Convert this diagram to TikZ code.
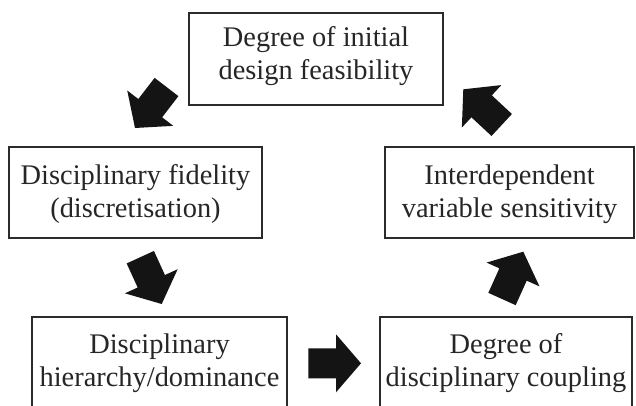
\documentclass[tikz,border=0pt]{standalone}
\usepackage{fontspec}
\setmainfont{Liberation Serif}
\usetikzlibrary{calc}
\definecolor{edgecol}{HTML}{2B2B2B}
\definecolor{arrcol}{HTML}{141414}
\tikzset{
  box/.style={draw=edgecol, line width=1.8pt, fill=white, inner sep=0pt},
  lbl/.style={align=center, inner sep=0pt,
    font=\fontsize{28.4}{33}\selectfont, text=black!85},
  blockfill/.style={fill=arrcol}
}
\newcommand\blockarr[2]{%
  \coordinate (hb) at ($(#2)!25pt!(#1)$);
  \fill[blockfill] ($(#1)!15pt!90:(#2)$) -- ($(hb)!15pt!-90:(#1)$) --
    ($(hb)!29pt!-90:(#1)$) -- (#2) -- ($(hb)!29pt!90:(#1)$) --
    ($(hb)!15pt!90:(#1)$) -- ($(#1)!15pt!-90:(#2)$) -- cycle;}
\begin{document}
\begin{tikzpicture}[x=1pt,y=-1pt]
\clip (0,0) rectangle (636,406);
\fill[white] (0,0) rectangle (636,406);
\node[box, minimum width=254pt, minimum height=92pt] (feas) at (316,59) {};
\node[box, minimum width=253pt, minimum height=91pt] (fid) at (135.5,192.5) {};
\node[box, minimum width=249pt, minimum height=91pt] (sens) at (509.5,192.5) {};
\node[box, minimum width=255pt, minimum height=91pt] (hier) at (159.5,362.5) {};
\node[box, minimum width=252pt, minimum height=91pt] (coup) at (506,362.5) {};
\node[lbl] (feast) at ($(feas.center)+(0,-2.5)$) {Degree of initial\\design feasibility};
\node[lbl] (fidt) at ($(fid.center)+(0,2)$) {Disciplinary fidelity\\(discretisation)};
\node[lbl] (senst) at ($(sens.center)+(0,2)$) {Interdependent\\variable sensitivity};
\node[lbl] (hiert) at ($(hier.center)+(0,1)$) {Disciplinary\\hierarchy/dominance};
\node[lbl] (coupt) at ($(coup.center)+(0,1)$) {Degree of\\disciplinary coupling};
\coordinate (a1t) at (166.5,87);   \coordinate (a1h) at (135,128);
\coordinate (a2t) at (501.7,125);  \coordinate (a2h) at (463.3,89.3);
\coordinate (a3t) at (140.3,257.2);\coordinate (a3h) at (161.7,304);
\coordinate (a4t) at (308.3,363.3);\coordinate (a4h) at (361,363.3);
\coordinate (a5t) at (502,299);    \coordinate (a5h) at (523.3,251.7);
\blockarr{a1t}{a1h}
\blockarr{a2t}{a2h}
\blockarr{a3t}{a3h}
\blockarr{a4t}{a4h}
\blockarr{a5t}{a5h}
\end{tikzpicture}
\end{document}
